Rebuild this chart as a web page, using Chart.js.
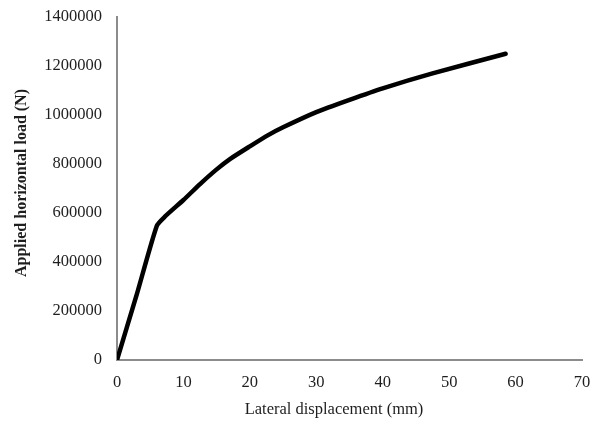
<!DOCTYPE html>
<html>
<head>
<meta charset="utf-8">
<script src="https://cdn.jsdelivr.net/npm/chart.js@4/dist/chart.umd.min.js"></script>
<style>
html,body{margin:0;padding:0;background:#fff;}
#wrap{width:602px;height:424px;position:relative;}
</style>
</head>
<body>
<div id="wrap"><canvas id="c" width="602" height="424"></canvas></div>
<script>
const displacement = [0, 3, 6, 7.2, 10, 12.5, 15, 17, 20, 22.75, 25, 30, 35, 40, 47.5, 58.5];
const load = [0, 270000, 548000, 585000, 653000, 718000, 778000, 820000, 872000, 918000, 950000, 1012000, 1062000, 1109000, 1170000, 1250000];
const xTicks = [0, 10, 20, 30, 40, 50, 60, 70];
const yTicks = [0, 200000, 400000, 600000, 800000, 1000000, 1200000, 1400000];
const xTitle = 'Lateral displacement (mm)';
const yTitle = 'Applied horizontal load (N)';

const pts = displacement.map((x, i) => ({x: x, y: load[i]}));
const font = 'Liberation Serif';

const titles = {
  id: 'axisTitles',
  afterDraw(chart) {
    const ctx = chart.ctx;
    ctx.save();
    ctx.fillStyle = '#1e1e1e';
    ctx.textAlign = 'center';
    ctx.textBaseline = 'middle';
    ctx.font = '16.5px "' + font + '"';
    ctx.fillText(xTitle, 334, 410);
    ctx.translate(22, 183);
    ctx.rotate(-Math.PI / 2);
    ctx.font = 'bold 16px "' + font + '"';
    ctx.fillText(yTitle, 0, 0);
    ctx.restore();
  }
};

new Chart(document.getElementById('c'), {
  type: 'line',
  data: {datasets: [{
    data: pts,
    borderColor: '#000',
    borderWidth: 4.5,
    pointRadius: 0,
    tension: 0.2,
    borderCapStyle: 'round',
    borderJoinStyle: 'round',
    fill: false
  }]},
  options: {
    responsive: false,
    animation: false,
    devicePixelRatio: 1,
    layout: {padding: {top: 17, right: 20, bottom: 0, left: 0}},
    plugins: {legend: {display: false}, tooltip: {enabled: false}},
    scales: {
      x: {
        type: 'linear', min: 0, max: 70,
        afterBuildTicks: s => { s.ticks = xTicks.map(v => ({value: v})); },
        afterFit: s => { s.height = 64; s.paddingLeft = 0; s.paddingRight = 0; },
        grid: {display: false, drawTicks: false},
        border: {display: true, color: '#8c8c8c', width: 2},
        ticks: {padding: 13, color: '#1e1e1e', font: {family: font, size: 16.5}}
      },
      y: {
        type: 'linear', min: 0, max: 1400000,
        afterBuildTicks: s => { s.ticks = yTicks.map(v => ({value: v})); },
        afterFit: s => { s.width = 117; s.paddingTop = 0; s.paddingBottom = 0; },
        grid: {display: false, drawTicks: false},
        border: {display: true, color: '#8c8c8c', width: 2},
        ticks: {padding: 15, color: '#1e1e1e', font: {family: font, size: 16.5}, callback: v => String(v)}
      }
    }
  },
  plugins: [titles]
});
</script>
</body>
</html>
